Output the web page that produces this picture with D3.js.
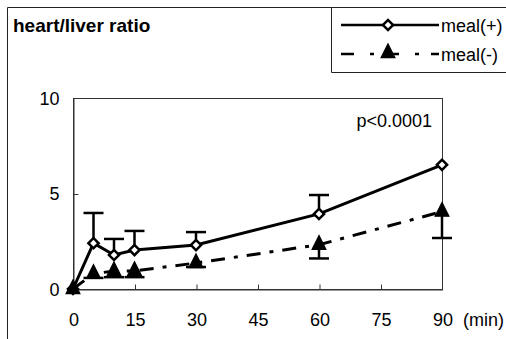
<!DOCTYPE html>
<html>
<head>
<meta charset="utf-8">
<script src="https://cdn.jsdelivr.net/npm/d3@7"></script>
<style>
  html, body { margin: 0; padding: 0; background: #fff; }
  svg { display: block; }
  text { font-family: "Liberation Sans", Arial, sans-serif; fill: #000; }
</style>
</head>
<body>
<script>
// Sampling times (min)
const times = [0, 5, 10, 15, 30, 60, 90];
// Heart/liver ratio, fed group: mean and upper SD limit
const mealPlus = [0, 2.4, 1.78, 2.04, 2.3, 3.93, 6.5];
const mealPlusUpper = [null, 3.98, 2.62, 3.04, 2.98, 4.92, null];
// Heart/liver ratio, fasted group: mean and lower SD limit
const mealMinus = [0, 0.8, 0.94, 0.95, 1.36, 2.32, 4.05];
const mealMinusLower = [null, 0.58, 0.62, 0.62, 1.15, 1.6, 2.67];
// Axis ticks
const xTicks = [0, 15, 30, 45, 60, 75, 90];
const yTicks = [0, 5, 10];
const seriesNames = ["meal(+)", "meal(-)"];

const W = 506, H = 339;
const svg = d3.select("body").append("svg").attr("width", W).attr("height", H);

const x = d3.scaleLinear().domain([0, 90]).range([73, 442]);
const y = d3.scaleLinear().domain([0, 10]).range([289, 98]);

// Outer frame (top and left edges visible)
svg.append("path")
  .attr("d", `M7.5,${H} V7.5 H${W}`)
  .attr("fill", "none").attr("stroke", "#222").attr("stroke-width", 1);

// Title
svg.append("text").attr("x", 13).attr("y", 32)
  .attr("font-size", 19).attr("font-weight", "bold")
  .text("heart/liver ratio");

// Plot frame
svg.append("rect")
  .attr("x", x(0) + 0.5).attr("y", y(10) + 0.5)
  .attr("width", x(90) - x(0)).attr("height", y(0) - y(10))
  .attr("fill", "none").attr("stroke", "#333").attr("stroke-width", 1);

// Axes
const xAxis = d3.axisBottom(x).tickValues(xTicks).tickSizeInner(-5).tickSizeOuter(0).tickPadding(24);
const gx = svg.append("g").attr("transform", `translate(0.5,${y(0) + 0.5})`).call(xAxis);
const yAxis = d3.axisLeft(y).tickValues(yTicks).tickSizeInner(-5).tickSizeOuter(0).tickPadding(14);
const gy = svg.append("g").attr("transform", `translate(${x(0) + 0.5},0.5)`).call(yAxis);
[gx, gy].forEach(g => {
  g.select(".domain").attr("stroke", "#333");
  g.selectAll(".tick line").attr("stroke", "#333");
  g.selectAll(".tick text").attr("font-size", 18).attr("font-family", "Liberation Sans, Arial, sans-serif").attr("fill", "#000");
});
gx.selectAll(".tick").filter(d => d === 0 || d === 90).select("line").remove();
gy.selectAll(".tick").filter(d => d === 0 || d === 10).select("line").remove();

svg.append("text").attr("x", 463).attr("y", 326).attr("font-size", 18).text("(min)");

// p value
svg.append("text").attr("x", 432).attr("y", 127).attr("text-anchor", "end")
  .attr("font-size", 18).text("p<0.0001");

const plusData = times.map((t, i) => ({ t, v: mealPlus[i], e: mealPlusUpper[i] }));
const minusData = times.map((t, i) => ({ t, v: mealMinus[i], e: mealMinusLower[i] }));

const line = d3.line().x(d => x(d.t)).y(d => y(d.v));
const dashPattern = "14,9,4,9";
const capW = 20;

// Error bars
function errorBars(data) {
  const g = svg.append("g").attr("stroke", "#000").attr("stroke-width", 2.5);
  data.filter(d => d.e != null).forEach(d => {
    g.append("line").attr("x1", x(d.t)).attr("x2", x(d.t)).attr("y1", y(d.v)).attr("y2", y(d.e));
    g.append("line").attr("x1", x(d.t) - capW / 2).attr("x2", x(d.t) + capW / 2).attr("y1", y(d.e)).attr("y2", y(d.e));
  });
}
errorBars(plusData);
errorBars(minusData);

// Series lines
svg.append("path").datum(plusData).attr("d", line)
  .attr("fill", "none").attr("stroke", "#000").attr("stroke-width", 3);
svg.append("path").datum(minusData).attr("d", line)
  .attr("fill", "none").attr("stroke", "#000").attr("stroke-width", 3)
  .attr("stroke-dasharray", dashPattern);

const diamond = d3.symbol().type(d3.symbolSquare).size(52)();
const triangle = d3.symbol().type(d3.symbolTriangle).size(85)();

function diamondAt(g, cx, cy) {
  g.append("path").attr("d", diamond)
    .attr("transform", `translate(${cx},${cy}) rotate(45)`)
    .attr("fill", "#fff").attr("stroke", "#000").attr("stroke-width", 2.5);
}
function triangleAt(g, cx, cy) {
  g.append("path").attr("d", triangle)
    .attr("transform", `translate(${cx},${cy}) scale(1,1.15)`)
    .attr("fill", "#000").attr("stroke", "#000").attr("stroke-width", 1);
}

const gm = svg.append("g");
plusData.forEach(d => diamondAt(gm, x(d.t), y(d.v)));
minusData.forEach(d => triangleAt(gm, x(d.t), y(d.v)));

// Legend
const lg = svg.append("g");
lg.append("path").attr("d", `M${W},72.5 H331.5 V7.5`)
  .attr("fill", "none").attr("stroke", "#222").attr("stroke-width", 1);
lg.append("line").attr("x1", 341).attr("x2", 439).attr("y1", 25).attr("y2", 25)
  .attr("stroke", "#000").attr("stroke-width", 2.5);
diamondAt(lg, 388, 25);
lg.append("line").attr("x1", 341).attr("x2", 439).attr("y1", 54).attr("y2", 54)
  .attr("stroke", "#000").attr("stroke-width", 2.5).attr("stroke-dasharray", "13,16,4,12");
triangleAt(lg, 388, 53);
lg.append("text").attr("x", 441).attr("y", 32).attr("font-size", 18).text(seriesNames[0]);
lg.append("text").attr("x", 441).attr("y", 61).attr("font-size", 18).text(seriesNames[1]);
</script>
</body>
</html>
